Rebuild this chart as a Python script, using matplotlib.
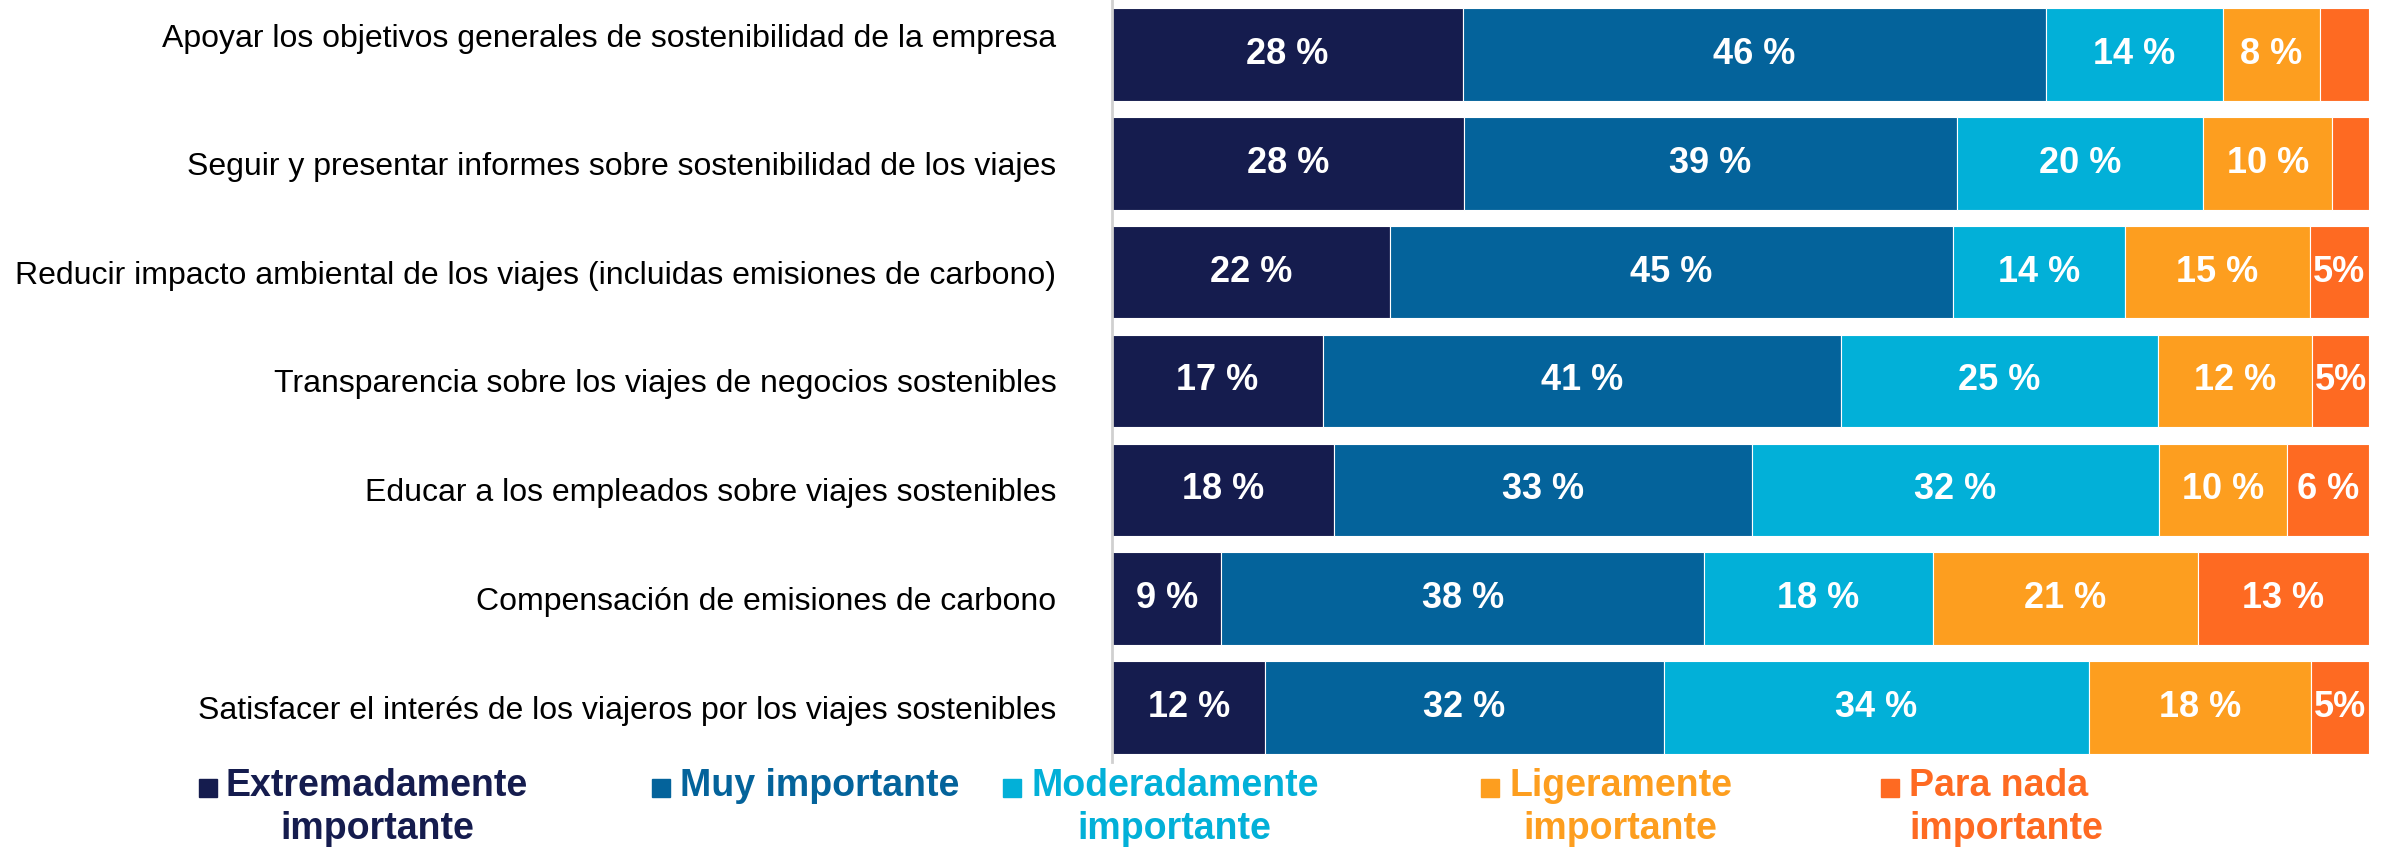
import numpy as np
import matplotlib
matplotlib.use("Agg")
import matplotlib.pyplot as plt
import matplotlib.transforms as mtransforms
from matplotlib.patches import Rectangle

plt.rcParams['font.family'] = ['Liberation Sans', 'DejaVu Sans']

categories = [
    "Apoyar los objetivos generales de sostenibilidad de la empresa",
    "Seguir y presentar informes sobre sostenibilidad de los viajes",
    "Reducir impacto ambiental de los viajes (incluidas emisiones de carbono)",
    "Transparencia sobre los viajes de negocios sostenibles",
    "Educar a los empleados sobre viajes sostenibles",
    "Compensación de emisiones de carbono",
    "Satisfacer el interés de los viajeros por los viajes sostenibles",
]
series_names = ["Extremadamente\nimportante", "Muy importante", "Moderadamente\nimportante",
                "Ligeramente\nimportante", "Para nada\nimportante"]
colors = ["#151c4e", "#04639b", "#02b0d8", "#fd9e1f", "#fe6a22"]

# segment widths (percent)
extremely = [27.9, 28.0, 22.1, 16.8, 17.7, 8.7, 12.2]
very = [46.4, 39.2, 44.8, 41.2, 33.2, 38.4, 31.7]
moderately = [14.1, 19.6, 13.7, 25.2, 32.4, 18.2, 33.8]
slightly = [7.7, 10.3, 14.7, 12.3, 10.2, 21.1, 17.7]
not_at_all = [3.9, 2.9, 4.7, 4.5, 6.5, 13.6, 4.6]

# printed labels
lab_extremely = ["28 %", "28 %", "22 %", "17 %", "18 %", "9 %", "12 %"]
lab_very = ["46 %", "39 %", "45 %", "41 %", "33 %", "38 %", "32 %"]
lab_moderately = ["14 %", "20 %", "14 %", "25 %", "32 %", "18 %", "34 %"]
lab_slightly = ["8 %", "10 %", "15 %", "12 %", "10 %", "21 %", "18 %"]
lab_not = ["", "", "5%", "5%", "6 %", "13 %", "5%"]

series = [extremely, very, moderately, slightly, not_at_all]
labels = [lab_extremely, lab_very, lab_moderately, lab_slightly, lab_not]

fig = plt.figure(figsize=(23.94, 8.49), dpi=100)
ax = fig.add_axes([0.4645, 0.1025, 0.525, 0.8975])

y = np.arange(len(categories))
left = np.zeros(len(categories))
for vals, labs, col in zip(series, labels, colors):
    vals = np.array(vals)
    ax.barh(y, vals, left=left, height=0.85, color=col, edgecolor="white", linewidth=0.8)
    for i in range(len(y)):
        if labs[i]:
            ax.text(left[i] + vals[i] / 2, y[i], labs[i], ha="center", va="center",
                    color="white", fontsize=26, fontweight="bold")
    left = left + vals

ax.set_xlim(0, 100)
ax.set_ylim(6.5, -0.5)
ax.set_yticks(y)
ax.set_yticklabels(categories, fontsize=23)
ax.tick_params(axis="y", length=0, pad=40)
# first label sits a bit higher in the original
first = ax.get_yticklabels()[0]
first.set_transform(first.get_transform() +
                    mtransforms.ScaledTranslation(0, 0.19, fig.dpi_scale_trans))
ax.set_xticks([])
for s in ["top", "right", "bottom"]:
    ax.spines[s].set_visible(False)
ax.spines["left"].set_color("#d0d0d0")
ax.spines["left"].set_linewidth(2)

# legend
sq_x = [199, 652, 1003, 1481, 1881]
tx_x = [226, 680, 1031, 1509, 1909]
W, H = 2394, 849
for k, (name, col, sx, tx) in enumerate(zip(series_names, colors, sq_x, tx_x)):
    fig.patches.append(Rectangle((sx / W, 1 - 797 / H), 18 / W, 18 / H,
                                 transform=fig.transFigure, color=col))
    fig.text(tx / W, 1 - 768 / H, name, ha="left", va="top", color=col,
             fontsize=27, fontweight="bold",
             multialignment="left" if k == 4 else "center", linespacing=1.25)

fig.savefig("out.png", dpi=100)
